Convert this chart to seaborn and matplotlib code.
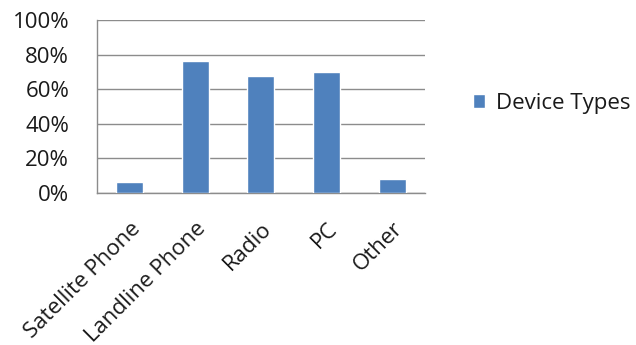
import matplotlib
matplotlib.use("Agg")
import matplotlib.pyplot as plt
from matplotlib.ticker import PercentFormatter, FixedLocator
import seaborn as sns
import pandas as pd

categories = ["Satellite Phone", "Landline Phone", "Radio", "PC", "Other"]
shares = [6.5, 76.5, 67.7, 70.0, 8.0]
series_name = "Device Types"
y_ticks = [0, 20, 40, 60, 80, 100]

df = pd.DataFrame({"Device": categories, "Share": shares})

sns.set_style("white")
plt.rcParams["font.family"] = ["Open Sans", "DejaVu Sans"]

fig = plt.figure(figsize=(6.36, 3.45), dpi=100)
ax = fig.add_axes([0.1525, 0.4406, 0.5155, 0.5006])

bar_color = "#4F81BD"
grid_color = "#8C8C8C"
text_color = "#1A1A1A"
fs = 16

sns.barplot(data=df, x="Device", y="Share", color=bar_color, width=0.41,
            saturation=1, label=series_name, ax=ax, zorder=3)

ax.set_ylim(0, 100)
ax.set_xlim(-0.5, len(categories) - 0.5)
ax.yaxis.set_major_locator(FixedLocator(y_ticks))
ax.yaxis.set_major_formatter(PercentFormatter(decimals=0))
ax.grid(axis="y", color=grid_color, linewidth=1, zorder=0)
ax.set_axisbelow(True)

for side in ["top", "right"]:
    ax.spines[side].set_visible(False)
for side in ["left", "bottom"]:
    ax.spines[side].set_color(grid_color)
    ax.spines[side].set_linewidth(1)

ax.set_xlabel("")
ax.set_ylabel("")

# category boundaries carry the x tick marks; labels sit at bar centres
ax.set_xticks([i - 0.5 for i in range(len(categories) + 1)], minor=True)
ax.tick_params(axis="x", which="minor", length=10, color=grid_color, width=1)
ax.tick_params(axis="x", which="major", length=0, pad=18)
ax.tick_params(axis="y", which="major", length=9, color=grid_color, width=1,
               labelsize=fs, pad=11, labelcolor=text_color)
ax.set_xticks(range(len(categories)))
ax.set_xticklabels(categories, rotation=45, ha="right", rotation_mode="anchor",
                   fontsize=fs, color=text_color)

leg = ax.legend(loc="center left", bbox_to_anchor=(1.147, 0.52), frameon=False,
                fontsize=fs, handlelength=0.55, handleheight=0.55,
                handletextpad=0.5, borderaxespad=0, borderpad=0)
for t in leg.get_texts():
    t.set_color(text_color)

fig.savefig("out.png", dpi=100)
